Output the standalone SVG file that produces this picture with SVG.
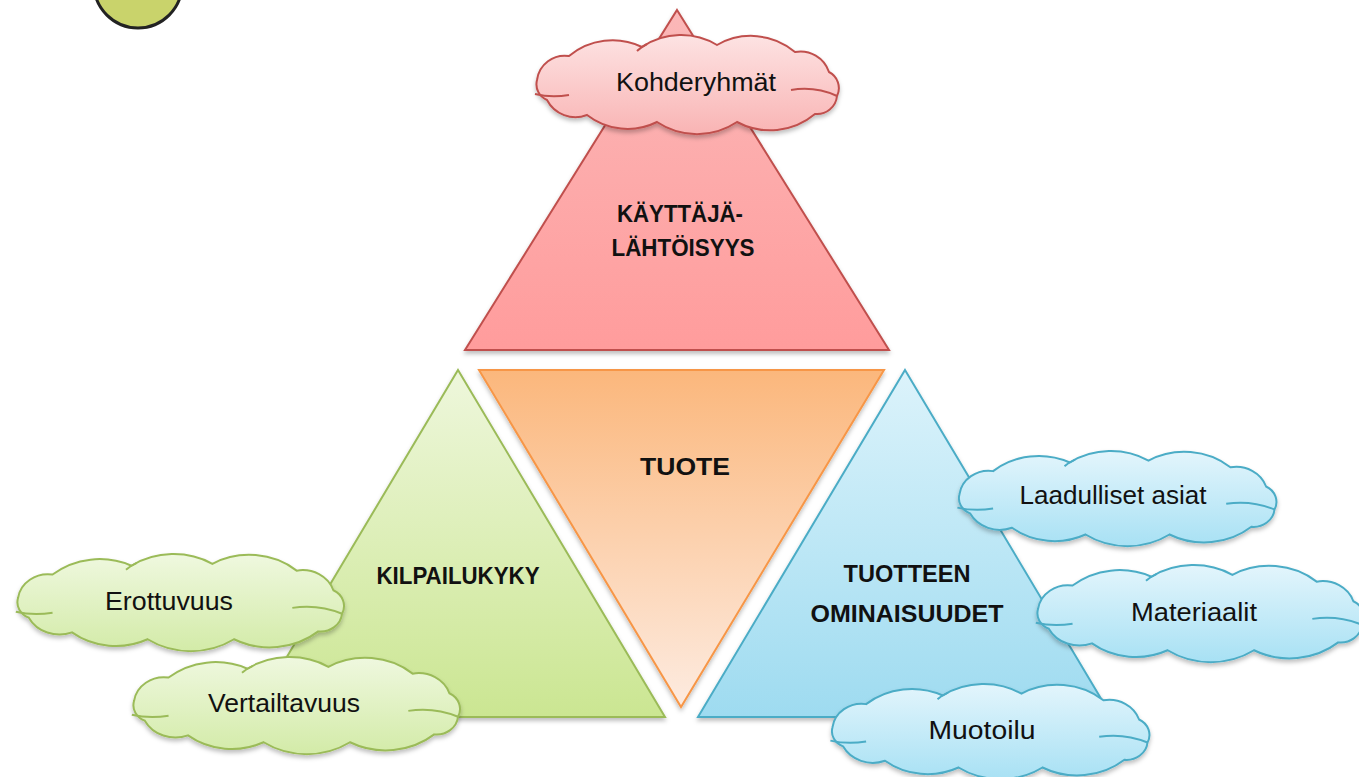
<svg xmlns="http://www.w3.org/2000/svg" width="1359" height="777" viewBox="0 0 1359 777">
<style>
.tri{stroke-width:2;stroke-linejoin:miter;filter:url(#sh)}
.cloud{stroke-width:2;filter:url(#sh)}
.hook{fill:none;stroke-width:2}
.bold{font-family:"Liberation Sans",Arial,sans-serif;font-weight:bold;font-size:24px;fill:#111;text-anchor:middle}
.lbl{font-family:"Liberation Sans",Arial,sans-serif;font-size:25px;fill:#111;text-anchor:middle}
.pink{fill:url(#gPinkC);stroke:#c0504d}
.green{fill:url(#gGreenC);stroke:#9bbb59}
.blue{fill:url(#gBlueC);stroke:#4bacc6}
</style>
<defs>
<filter id="sh" x="-10%" y="-10%" width="120%" height="130%">
<feDropShadow dx="0" dy="3" stdDeviation="2" flood-color="#000" flood-opacity="0.25"/>
</filter>
<linearGradient id="gRed" x1="0" y1="0" x2="0" y2="1"><stop offset="0" stop-color="#fbb8b8"/><stop offset="1" stop-color="#ff9c9c"/></linearGradient>
<linearGradient id="gOrange" x1="0" y1="0" x2="0" y2="1"><stop offset="0" stop-color="#fbb77c"/><stop offset="1" stop-color="#fdebe0"/></linearGradient>
<linearGradient id="gGreen" x1="0" y1="0" x2="0" y2="1"><stop offset="0" stop-color="#eef7dc"/><stop offset="1" stop-color="#cbe692"/></linearGradient>
<linearGradient id="gBlue" x1="0" y1="0" x2="0" y2="1"><stop offset="0" stop-color="#dcf3fb"/><stop offset="1" stop-color="#9edbf0"/></linearGradient>
<linearGradient id="gPinkC" x1="0" y1="0" x2="0" y2="1"><stop offset="0" stop-color="#fde3e3"/><stop offset="1" stop-color="#f9b4b4"/></linearGradient>
<linearGradient id="gGreenC" x1="0" y1="0" x2="0" y2="1"><stop offset="0" stop-color="#eff8df"/><stop offset="1" stop-color="#d3eba8"/></linearGradient>
<linearGradient id="gBlueC" x1="0" y1="0" x2="0" y2="1"><stop offset="0" stop-color="#e3f5fc"/><stop offset="1" stop-color="#a8e1f4"/></linearGradient>
<path id="cloudShape" vector-effect="non-scaling-stroke" d="M-150,-4 A28,28 0 0 1 -118,-28 A68,68 0 0 1 -45,-37 A70,70 0 0 1 30,-39 A68,68 0 0 1 108,-32 A30,30 0 0 1 142,-12 A18,18 0 0 1 150,12 A20,20 0 0 1 128,30 A70,70 0 0 1 50,38 A72,72 0 0 1 -30,38 A66,66 0 0 1 -100,31 A32,32 0 0 1 -140,16 A17,17 0 0 1 -150,-4 Z"/>
<path id="cloudHooks" vector-effect="non-scaling-stroke" d="M-152,10 Q-136,14 -118,11 M104,6 Q128,2 150,12 M-50,-33 Q-46,-37 -40,-40"/>
</defs>

<g id="badge">
<circle cx="138" cy="-16" r="44" fill="#c9d36b" stroke="#222" stroke-width="3"/>
</g>

<g id="connectors"/>

<g id="node-kayttajalahtoisyys">
<polygon class="tri" points="677,10 889,350 465,350" fill="url(#gRed)" stroke="#c0504d"/>
<text class="bold" x="680" y="222" textLength="126" lengthAdjust="spacingAndGlyphs">KÄYTTÄJÄ-</text>
<text class="bold" x="683" y="256" textLength="143" lengthAdjust="spacingAndGlyphs">LÄHTÖISYYS</text>
</g>

<g id="node-tuote">
<polygon class="tri" points="479,370 884,370 681,707" fill="url(#gOrange)" stroke="#f79646"/>
<text class="bold" x="685" y="475" textLength="90" lengthAdjust="spacingAndGlyphs">TUOTE</text>
</g>

<g id="node-kilpailukyky">
<polygon class="tri" points="458,370 665,717 251,717" fill="url(#gGreen)" stroke="#9bbb59"/>
<text class="bold" x="458" y="584" textLength="163" lengthAdjust="spacingAndGlyphs">KILPAILUKYKY</text>
</g>

<g id="node-tuotteen-ominaisuudet">
<polygon class="tri" points="905,370 1112,717 698,717" fill="url(#gBlue)" stroke="#4bacc6"/>
<text class="bold" x="907" y="582" textLength="127" lengthAdjust="spacingAndGlyphs">TUOTTEEN</text>
<text class="bold" x="907" y="622" textLength="193" lengthAdjust="spacingAndGlyphs">OMINAISUUDET</text>
</g>

<g id="node-kohderyhmat">
<g transform="translate(687,84) scale(1.0,1.0)">
<use href="#cloudShape" class="cloud pink"/>
<use href="#cloudHooks" class="hook" stroke="#c0504d"/>
</g>
<text class="lbl" x="696" y="91" textLength="160" lengthAdjust="spacingAndGlyphs">Kohderyhmät</text>
</g>

<g id="node-erottuvuus">
<g transform="translate(180,602) scale(1.08,0.98)">
<use href="#cloudShape" class="cloud green"/>
<use href="#cloudHooks" class="hook" stroke="#9bbb59"/>
</g>
<text class="lbl" x="169" y="610" textLength="128" lengthAdjust="spacingAndGlyphs">Erottuvuus</text>
</g>

<g id="node-vertailtavuus">
<g transform="translate(296,705) scale(1.08,0.98)">
<use href="#cloudShape" class="cloud green"/>
<use href="#cloudHooks" class="hook" stroke="#9bbb59"/>
</g>
<text class="lbl" x="284" y="712" textLength="152" lengthAdjust="spacingAndGlyphs">Vertailtavuus</text>
</g>

<g id="node-laadulliset-asiat">
<g transform="translate(1117,498) scale(1.05,0.96)">
<use href="#cloudShape" class="cloud blue"/>
<use href="#cloudHooks" class="hook" stroke="#4bacc6"/>
</g>
<text class="lbl" x="1113" y="504" textLength="187" lengthAdjust="spacingAndGlyphs">Laadulliset asiat</text>
</g>

<g id="node-materiaalit">
<g transform="translate(1200,613) scale(1.08,0.98)">
<use href="#cloudShape" class="cloud blue"/>
<use href="#cloudHooks" class="hook" stroke="#4bacc6"/>
</g>
<text class="lbl" x="1194" y="621" textLength="126" lengthAdjust="spacingAndGlyphs">Materiaalit</text>
</g>

<g id="node-muotoilu">
<g transform="translate(990,731) scale(1.05,0.96)">
<use href="#cloudShape" class="cloud blue"/>
<use href="#cloudHooks" class="hook" stroke="#4bacc6"/>
</g>
<text class="lbl" x="982" y="739" textLength="107" lengthAdjust="spacingAndGlyphs">Muotoilu</text>
</g>
</svg>
